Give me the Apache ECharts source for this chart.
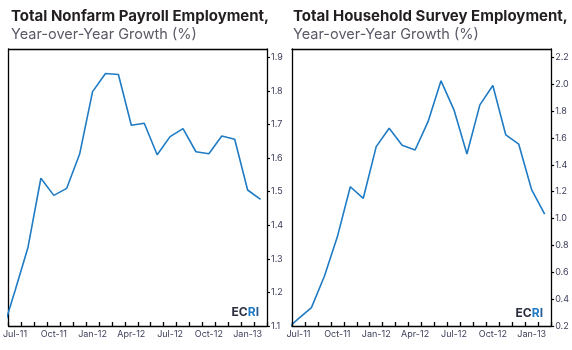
<!DOCTYPE html>
<html>
<head>
<meta charset="utf-8">
<script src="https://cdn.jsdelivr.net/npm/echarts@6/dist/echarts.min.js"></script>
<style>
    html, body { margin: 0; padding: 0; background: #fff; }
    #chart { width: 572px; height: 350px; }
</style>
</head>
<body>
<div id="chart"></div>
<script>
    // months, first one (Jun-11) sits just outside the plot and gets clipped
    const months = ['Jun-11', 'Jul-11', 'Aug-11', 'Sep-11', 'Oct-11', 'Nov-11', 'Dec-11',
        'Jan-12', 'Feb-12', 'Mar-12', 'Apr-12', 'May-12', 'Jun-12', 'Jul-12', 'Aug-12',
        'Sep-12', 'Oct-12', 'Nov-12', 'Dec-12', 'Jan-13', 'Feb-13'];

    const payroll = [1.08, 1.205, 1.334, 1.54, 1.489, 1.51, 1.612, 1.798, 1.852, 1.849, 1.698,
        1.704, 1.61, 1.664, 1.688, 1.619, 1.613, 1.666, 1.656, 1.505, 1.477];

    const household = [0.17, 0.255, 0.337, 0.571, 0.864, 1.237, 1.151, 1.536, 1.673, 1.546, 1.511,
        1.722, 2.026, 1.81, 1.481, 1.847, 1.991, 1.623, 1.554, 1.213, 1.034];

    const payrollTicks = [1.1, 1.2, 1.3, 1.4, 1.5, 1.6, 1.7, 1.8, 1.9];
    const householdTicks = [0.2, 0.4, 0.6, 0.8, 1.0, 1.2, 1.4, 1.6, 1.8, 2.0, 2.2];

    const lineColor = '#1f7bc4';
    const labelColor = '#3b3d58';
    const fontFamily = 'Inter, "Open Sans", sans-serif';
    const frame = { color: '#000', width: 1.3 };

    const chart = echarts.init(document.getElementById('chart'));

    // bottom category axis: month labels and month boundary ticks
    function monthAxis(gridIndex) {
        return {
            type: 'category',
            gridIndex: gridIndex,
            position: 'bottom',
            data: months.slice(1),
            boundaryGap: true,
            axisLine: { show: true, onZero: false, lineStyle: frame },
            axisTick: {
                show: true, inside: true, length: 4, interval: 0, alignWithLabel: false,
                lineStyle: frame
            },
            axisLabel: {
                interval: 2, color: labelColor, fontSize: 9, margin: 4,
                fontFamily: fontFamily, letterSpacing: -0.3
            },
            splitLine: { show: false },
            z: 5
        };
    }

    // top value axis in months: places each point mid-month, its line is the top frame
    function dataAxis(gridIndex) {
        return {
            type: 'value',
            gridIndex: gridIndex,
            position: 'top',
            min: 0,
            max: 20,
            axisLine: { show: true, onZero: false, lineStyle: frame },
            axisTick: { show: false },
            axisLabel: { show: false },
            splitLine: { show: false }
        };
    }

    function valueAxis(gridIndex, min, max, ticks) {
        return {
            type: 'value',
            gridIndex: gridIndex,
            position: 'right',
            min: min,
            max: max,
            axisLine: { show: true, onZero: false, lineStyle: frame },
            axisTick: { show: true, length: 3, customValues: ticks, lineStyle: { color: '#000', width: 1.2 } },
            axisLabel: {
                customValues: ticks, color: labelColor, fontSize: 9, margin: 4,
                fontFamily: fontFamily,
                formatter: function (v) { return v.toFixed(1); }
            },
            splitLine: { show: false }
        };
    }

    // plain left frame line
    function frameAxis(gridIndex, min, max) {
        return {
            type: 'value',
            gridIndex: gridIndex,
            position: 'left',
            min: min,
            max: max,
            axisLine: { show: true, onZero: false, lineStyle: frame },
            axisTick: { show: false },
            axisLabel: { show: false },
            splitLine: { show: false }
        };
    }

    function points(values) {
        return values.map(function (v, i) { return [i - 0.5, v]; });
    }

    function title(text, left) {
        return {
            text: text,
            subtext: 'Year-over-Year Growth (%)',
            left: left,
            top: 4,
            itemGap: 3,
            textStyle: { fontSize: 15, fontWeight: 'bold', color: '#231f20', fontFamily: fontFamily },
            subtextStyle: { fontSize: 14.5, color: '#5a5a66', fontFamily: fontFamily }
        };
    }

    function logo(right, top) {
        return {
            type: 'text',
            right: right,
            top: top,
            style: {
                text: '{d|EC}{b|R}{c|I}',
                rich: {
                    d: { fontSize: 12, fontWeight: 'bold', fill: '#2a2d3e', fontFamily: fontFamily },
                    b: { fontSize: 12, fontWeight: 'bold', fill: lineColor, fontFamily: fontFamily },
                    c: { fontSize: 12, fontWeight: 'bold', fill: '#245d94', fontFamily: fontFamily }
                }
            }
        };
    }

    const option = {
        animation: false,
        backgroundColor: '#fff',
        title: [
            title('Total Nonfarm Payroll Employment,', 6),
            title('Total Household Survey Employment,', 288)
        ],
        grid: [
            { left: 8, right: 305, top: 49, bottom: 24 },
            { left: 292, right: 20, top: 49, bottom: 24 }
        ],
        xAxis: [monthAxis(0), monthAxis(1), dataAxis(0), dataAxis(1)],
        yAxis: [
            valueAxis(0, 1.1, 1.925, payrollTicks),
            valueAxis(1, 0.2, 2.263, householdTicks),
            frameAxis(0, 1.1, 1.925),
            frameAxis(1, 0.2, 2.263)
        ],
        series: [
            {
                name: 'Total Nonfarm Payroll Employment',
                type: 'line',
                xAxisIndex: 2,
                yAxisIndex: 0,
                data: points(payroll),
                symbol: 'none',
                clip: true,
                lineStyle: { color: lineColor, width: 1.6 }
            },
            {
                name: 'Total Household Survey Employment',
                type: 'line',
                xAxisIndex: 3,
                yAxisIndex: 1,
                data: points(household),
                symbol: 'none',
                clip: true,
                lineStyle: { color: lineColor, width: 1.6 }
            }
        ],
        graphic: [logo(313, 306), logo(29, 307)]
    };
    chart.setOption(option);

    window.onresize = function () {
        chart.resize();
    };
</script>
</body>
</html>
